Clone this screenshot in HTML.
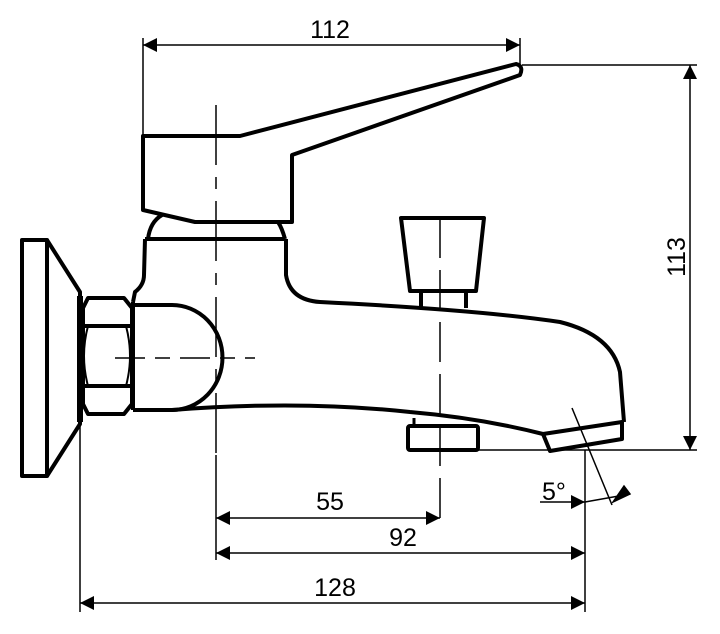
<!DOCTYPE html>
<html><head><style>body{margin:0;background:#fff}svg{display:block}text{font-family:"Liberation Sans",sans-serif;font-size:25px;fill:#000}</style></head>
<body>
<svg width="720" height="634" viewBox="0 0 720 634" xmlns="http://www.w3.org/2000/svg">
<defs><marker id="a" viewBox="0 0 10 10" refX="10" refY="5" markerWidth="14" markerHeight="14" markerUnits="userSpaceOnUse" orient="auto-start-reverse"><path d="M0,0L10,5L0,10z" fill="#000"/></marker></defs>
<g fill="none" stroke="#000" stroke-width="4" stroke-linejoin="round">
<rect x="22" y="240" width="25" height="236"/>
<path d="M47,240 L80,292 L80,424 L47,476"/>
<line x1="80" y1="296" x2="80" y2="422" stroke-width="6"/>
<path d="M88,298 L124,298 L132,308 L132,404 L124,414 L88,414 L83,404 L83,308 Z"/>
<path d="M85,326 L130,326 M85,386 L130,386" />
<path d="M88,326 Q80,356 88,386 M126,326 Q134,356 126,386" stroke-width="2"/>
<path d="M133,302 L133,410 M133,305 L172,305 A50,52 0 0 1 172,410 L133,410"/>
<path d="M145,239 L285,239 M145,239 L144,275 Q144,285 135,292 L133,302"/>
<path d="M148,239 Q150,222 162,215 M285,239 Q282,228 278,222"/>
<path d="M286,239 L286,275 Q290,300 320,302 Q480,310 560,322 Q612,335 620,372 L624,422"/>
<path d="M172,410 Q300,400 410,412 Q480,418 543,434"/>
<path d="M543,434 L622,422 L622,439 L550,451 Z"/>
<path d="M548,443 L620,432" stroke-width="0"/>
<path d="M401,218 L484,218 L476,291 L410,291 Z"/>
<path d="M421,291 L421,308 M466,291 L466,308"/>
<rect x="408" y="426" width="70" height="24" rx="2"/>
<line x1="414" y1="418" x2="414" y2="426" stroke-width="3"/>
<path d="M143,136 L240,136 L516,64 Q524,66 520,75 L292,155 L292,222 L195,222 L143,210 Z"/>
</g>
<g stroke="#000" stroke-width="1.5" fill="none">
<line x1="216" y1="105" x2="216" y2="455" stroke-dasharray="60,12,12,12"/>
<line x1="440" y1="218" x2="440" y2="525" stroke-dasharray="40,12"/>
<line x1="115" y1="358" x2="255" y2="358" stroke-dasharray="30,10,15,10"/>
<line x1="572" y1="408" x2="612" y2="505"/>
<line x1="143" y1="38" x2="143" y2="136"/>
<line x1="520" y1="38" x2="520" y2="64"/>
<line x1="522" y1="65" x2="697" y2="65"/>
<line x1="478" y1="450" x2="697" y2="450"/>
<line x1="80" y1="420" x2="80" y2="612"/>
<line x1="216" y1="455" x2="216" y2="560"/>
<line x1="585" y1="450" x2="585" y2="612"/>
<line x1="143" y1="45" x2="520" y2="45" marker-start="url(#a)" marker-end="url(#a)"/>
<line x1="690" y1="65" x2="690" y2="450" marker-start="url(#a)" marker-end="url(#a)"/>
<line x1="216" y1="518" x2="440" y2="518" marker-start="url(#a)" marker-end="url(#a)"/>
<line x1="216" y1="553" x2="585" y2="553" marker-start="url(#a)" marker-end="url(#a)"/>
<line x1="80" y1="603" x2="585" y2="603" marker-start="url(#a)" marker-end="url(#a)"/>
<line x1="540" y1="502" x2="585" y2="502" marker-end="url(#a)"/>
<line x1="585" y1="502" x2="630" y2="494"/>
<path d="M613,502 L624,486 L630,494 Z" fill="#000"/>
</g>
<text x="330" y="38" text-anchor="middle">112</text>
<text transform="translate(685,257) rotate(-90)" text-anchor="middle">113</text>
<text x="330" y="510" text-anchor="middle">55</text>
<text x="403" y="546" text-anchor="middle">92</text>
<text x="335" y="596" text-anchor="middle">128</text>
<text x="542" y="500">5°</text>
</svg>
</body></html>
